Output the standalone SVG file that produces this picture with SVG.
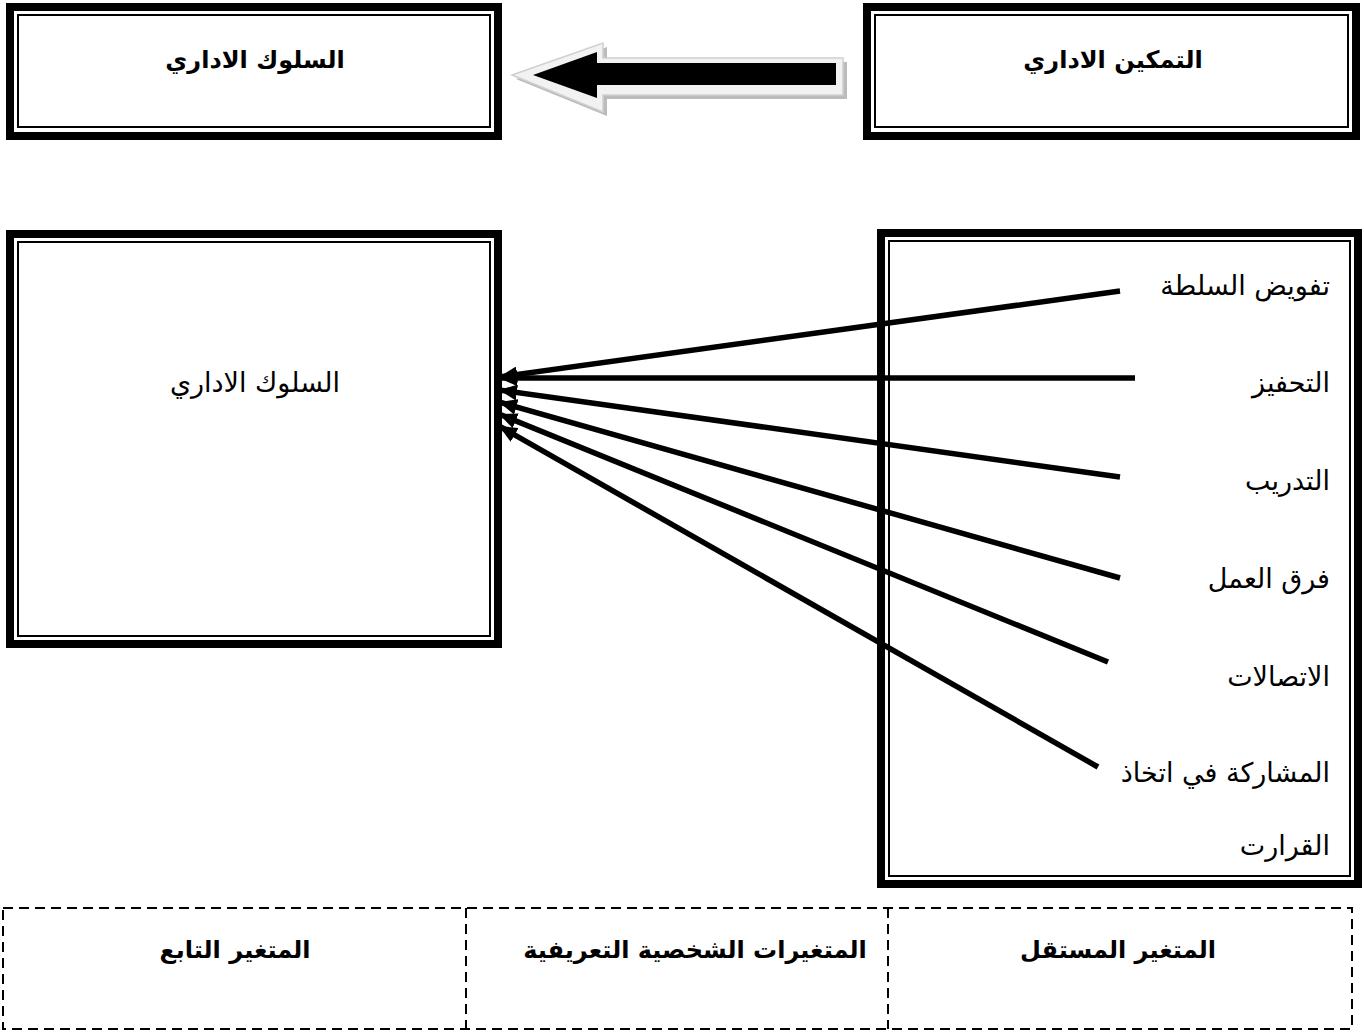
<svg xmlns="http://www.w3.org/2000/svg" width="1364" height="1032" viewBox="0 0 1364 1032">
<style>
.outer{fill:none;stroke:#000;stroke-width:8}
.inner{fill:none;stroke:#000;stroke-width:2}
.title{font-family:"DejaVu Sans",sans-serif;font-size:24px;font-weight:bold;fill:#000;text-anchor:middle}
.lbl{font-family:"DejaVu Sans",sans-serif;font-size:27px;fill:#000;text-anchor:end}
.conn{stroke:#000;stroke-width:5.5;fill:none;marker-end:url(#ah)}
.dash{fill:none;stroke:#000;stroke-width:2;stroke-dasharray:10 6}
</style>
<defs>
<marker id="ah" markerUnits="userSpaceOnUse" markerWidth="20" markerHeight="16" refX="18" refY="8" orient="auto">
<path d="M0,0 L18,8 L0,16 Z" fill="#000"/>
</marker>
</defs>
<rect width="1364" height="1032" fill="#fff"/>

<g id="node-top-left">
<rect class="outer" x="10" y="7" width="488" height="129"/>
<rect class="inner" x="18" y="15" width="472" height="112"/>
<text class="title" x="255" y="68">السلوك الاداري</text>
</g>

<g id="node-top-right">
<rect class="outer" x="867" y="7" width="489" height="129"/>
<rect class="inner" x="875" y="15" width="473" height="112"/>
<text class="title" x="1113" y="68">التمكين الاداري</text>
</g>

<g id="block-arrow">
<polygon points="516,79 607,47 607,62 847,62 847,99 607,99 607,116" fill="#bbb"/>
<polygon points="512,75 603,43 603,58 843,58 843,95 603,95 603,112" fill="#f2f2f2" stroke="#d0d0d0" stroke-width="1.5"/>
<polygon points="533,75 597,52 597,63 836,63 836,85 597,85 597,98" fill="#000"/>
</g>

<g id="node-behavior">
<rect class="outer" x="10" y="234" width="488" height="410"/>
<rect class="inner" x="18" y="242" width="472" height="394"/>
<text class="lbl" style="text-anchor:middle" x="255" y="392">السلوك الاداري</text>
</g>

<g id="node-empowerment">
<rect class="outer" x="881" y="233" width="477" height="651"/>
<rect class="inner" x="889" y="241" width="461" height="635"/>
<text class="lbl" x="1330" y="295">تفويض السلطة</text>
<text class="lbl" x="1330" y="392">التحفيز</text>
<text class="lbl" x="1330" y="490">التدريب</text>
<text class="lbl" x="1330" y="588">فرق العمل</text>
<text class="lbl" x="1330" y="686">الاتصالات</text>
<text class="lbl" x="1330" y="782">المشاركة في اتخاذ</text>
<text class="lbl" x="1330" y="855">القرارت</text>
</g>

<g id="connectors">
<line class="conn" x1="1120" y1="291" x2="499" y2="377"/>
<line class="conn" x1="1135" y1="378" x2="499" y2="378"/>
<line class="conn" x1="1120" y1="477" x2="499" y2="390"/>
<line class="conn" x1="1120" y1="578" x2="499" y2="402"/>
<line class="conn" x1="1108" y1="662" x2="499" y2="414"/>
<line class="conn" x1="1098" y1="767" x2="499" y2="426"/>
</g>

<g id="legend">
<rect class="dash" x="3" y="908" width="1349" height="121"/>
<line class="dash" x1="466" y1="908" x2="466" y2="1029"/>
<line class="dash" x1="888" y1="908" x2="888" y2="1029"/>
<text class="title" x="235" y="958">المتغير التابع</text>
<text class="title" x="695" y="958">المتغيرات الشخصية التعريفية</text>
<text class="title" x="1118" y="958">المتغير المستقل</text>
</g>
</svg>
